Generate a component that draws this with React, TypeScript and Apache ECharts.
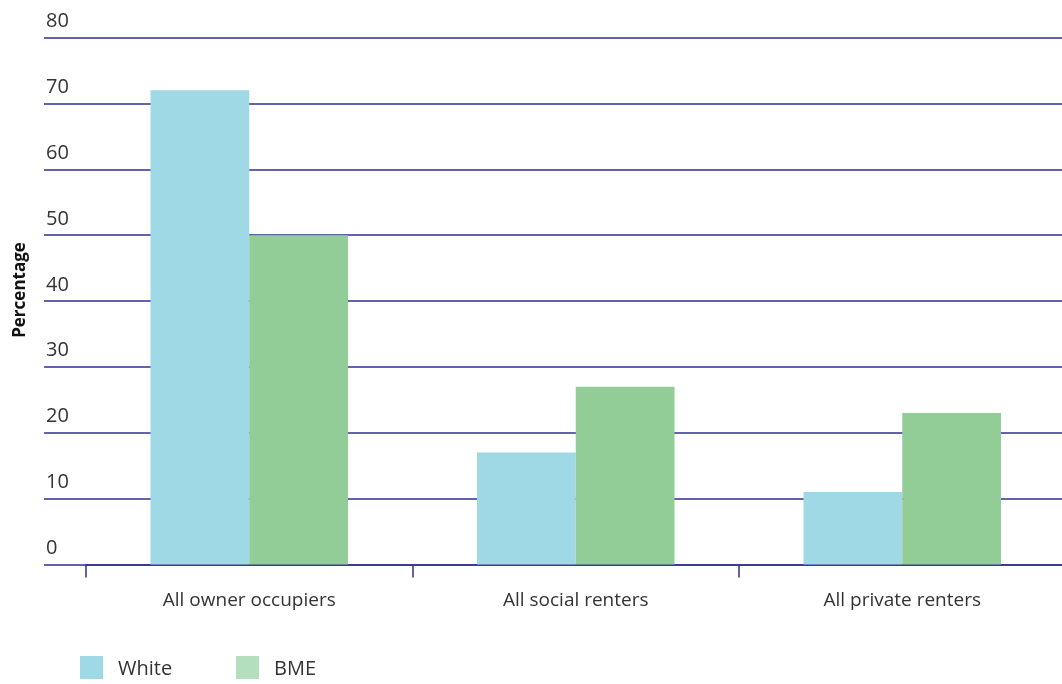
import React, { useEffect, useRef } from "react";
import * as echarts from "echarts";

const categories = ["All owner occupiers", "All social renters", "All private renters"];
const whiteValues = [72, 17, 11];
const bmeValues = [50, 27, 23];
const seriesNames = ["White", "BME"];
const yTicks = { min: 0, max: 80, interval: 10 };
const yTitle = "Percentage";

const FONT = "'Open Sans', sans-serif";
const GRID_COLOR = "#2d3192";
const WHITE_COLOR = "#9fd9e6";
const BME_COLOR = "#92cd97";
const BME_LEGEND_COLOR = "#b3dfbf";

export default function App() {
  const ref = useRef<HTMLDivElement>(null);
  useEffect(() => {
    if (!ref.current) return;
    const chart = echarts.init(ref.current, undefined, { renderer: "svg" });
    const legendBase = {
      top: 656,
      padding: 0,
      itemWidth: 23,
      itemHeight: 23,
      icon: "rect",
      textStyle: { color: "#333", fontSize: 20, fontFamily: FONT, padding: [0, 0, 0, 10] },
    };
    chart.setOption({
      animation: false,
      textStyle: { fontFamily: FONT },
      grid: [
        { left: 44, width: 1030, top: 37.5, height: 527 },
        { left: 86, width: 979.5, top: 37.5, height: 527 },
      ],
      xAxis: [
        { type: "value", gridIndex: 0, show: false, min: 0, max: 1 },
        {
          type: "category",
          gridIndex: 1,
          data: categories,
          axisLine: { show: true, lineStyle: { color: GRID_COLOR, width: 1.5 } },
          axisTick: { show: true, length: 13, lineStyle: { color: GRID_COLOR, width: 1.5 } },
          axisLabel: { color: "#333", fontSize: 19, margin: 25, fontFamily: FONT },
        },
      ],
      yAxis: [
        {
          type: "value",
          gridIndex: 0,
          min: yTicks.min,
          max: yTicks.max,
          interval: yTicks.interval,
          axisLine: { show: false },
          axisTick: { show: false },
          splitLine: { show: true, lineStyle: { color: GRID_COLOR, width: 1.5 } },
          axisLabel: {
            color: "#333",
            fontSize: 20,
            fontFamily: FONT,
            align: "left",
            verticalAlign: "bottom",
            margin: -2,
            padding: [0, 0, 8, 0],
          },
        },
        {
          type: "value",
          gridIndex: 1,
          min: yTicks.min,
          max: yTicks.max,
          interval: yTicks.interval,
          show: false,
          splitLine: { show: false },
        },
      ],
      legend: [
        {
          ...legendBase,
          left: 80,
          data: [{ name: seriesNames[0], itemStyle: { color: WHITE_COLOR } }],
        },
        {
          ...legendBase,
          left: 236,
          data: [{ name: seriesNames[1], itemStyle: { color: BME_LEGEND_COLOR } }],
        },
      ],
      graphic: [
        {
          type: "text",
          x: 18.5,
          y: 290,
          rotation: Math.PI / 2,
          style: {
            text: yTitle,
            fill: "#111",
            font: `bold 17px ${FONT}`,
            align: "center",
            verticalAlign: "middle",
          },
        },
      ],
      series: [
        {
          name: seriesNames[0],
          type: "bar",
          xAxisIndex: 1,
          yAxisIndex: 1,
          data: whiteValues,
          barGap: "0%",
          barCategoryGap: "39.5%",
          itemStyle: { color: WHITE_COLOR },
        },
        {
          name: seriesNames[1],
          type: "bar",
          xAxisIndex: 1,
          yAxisIndex: 1,
          data: bmeValues,
          barGap: "0%",
          barCategoryGap: "39.5%",
          itemStyle: { color: BME_COLOR },
        },
      ],
    });
    return () => chart.dispose();
  }, []);
  return (
    <div style={{ position: "fixed", left: 0, top: 0, width: 1062, height: 684, overflow: "hidden" }}>
      <div ref={ref} style={{ position: "absolute", left: 0, top: 0, width: 1074, height: 684 }} />
    </div>
  );
}
